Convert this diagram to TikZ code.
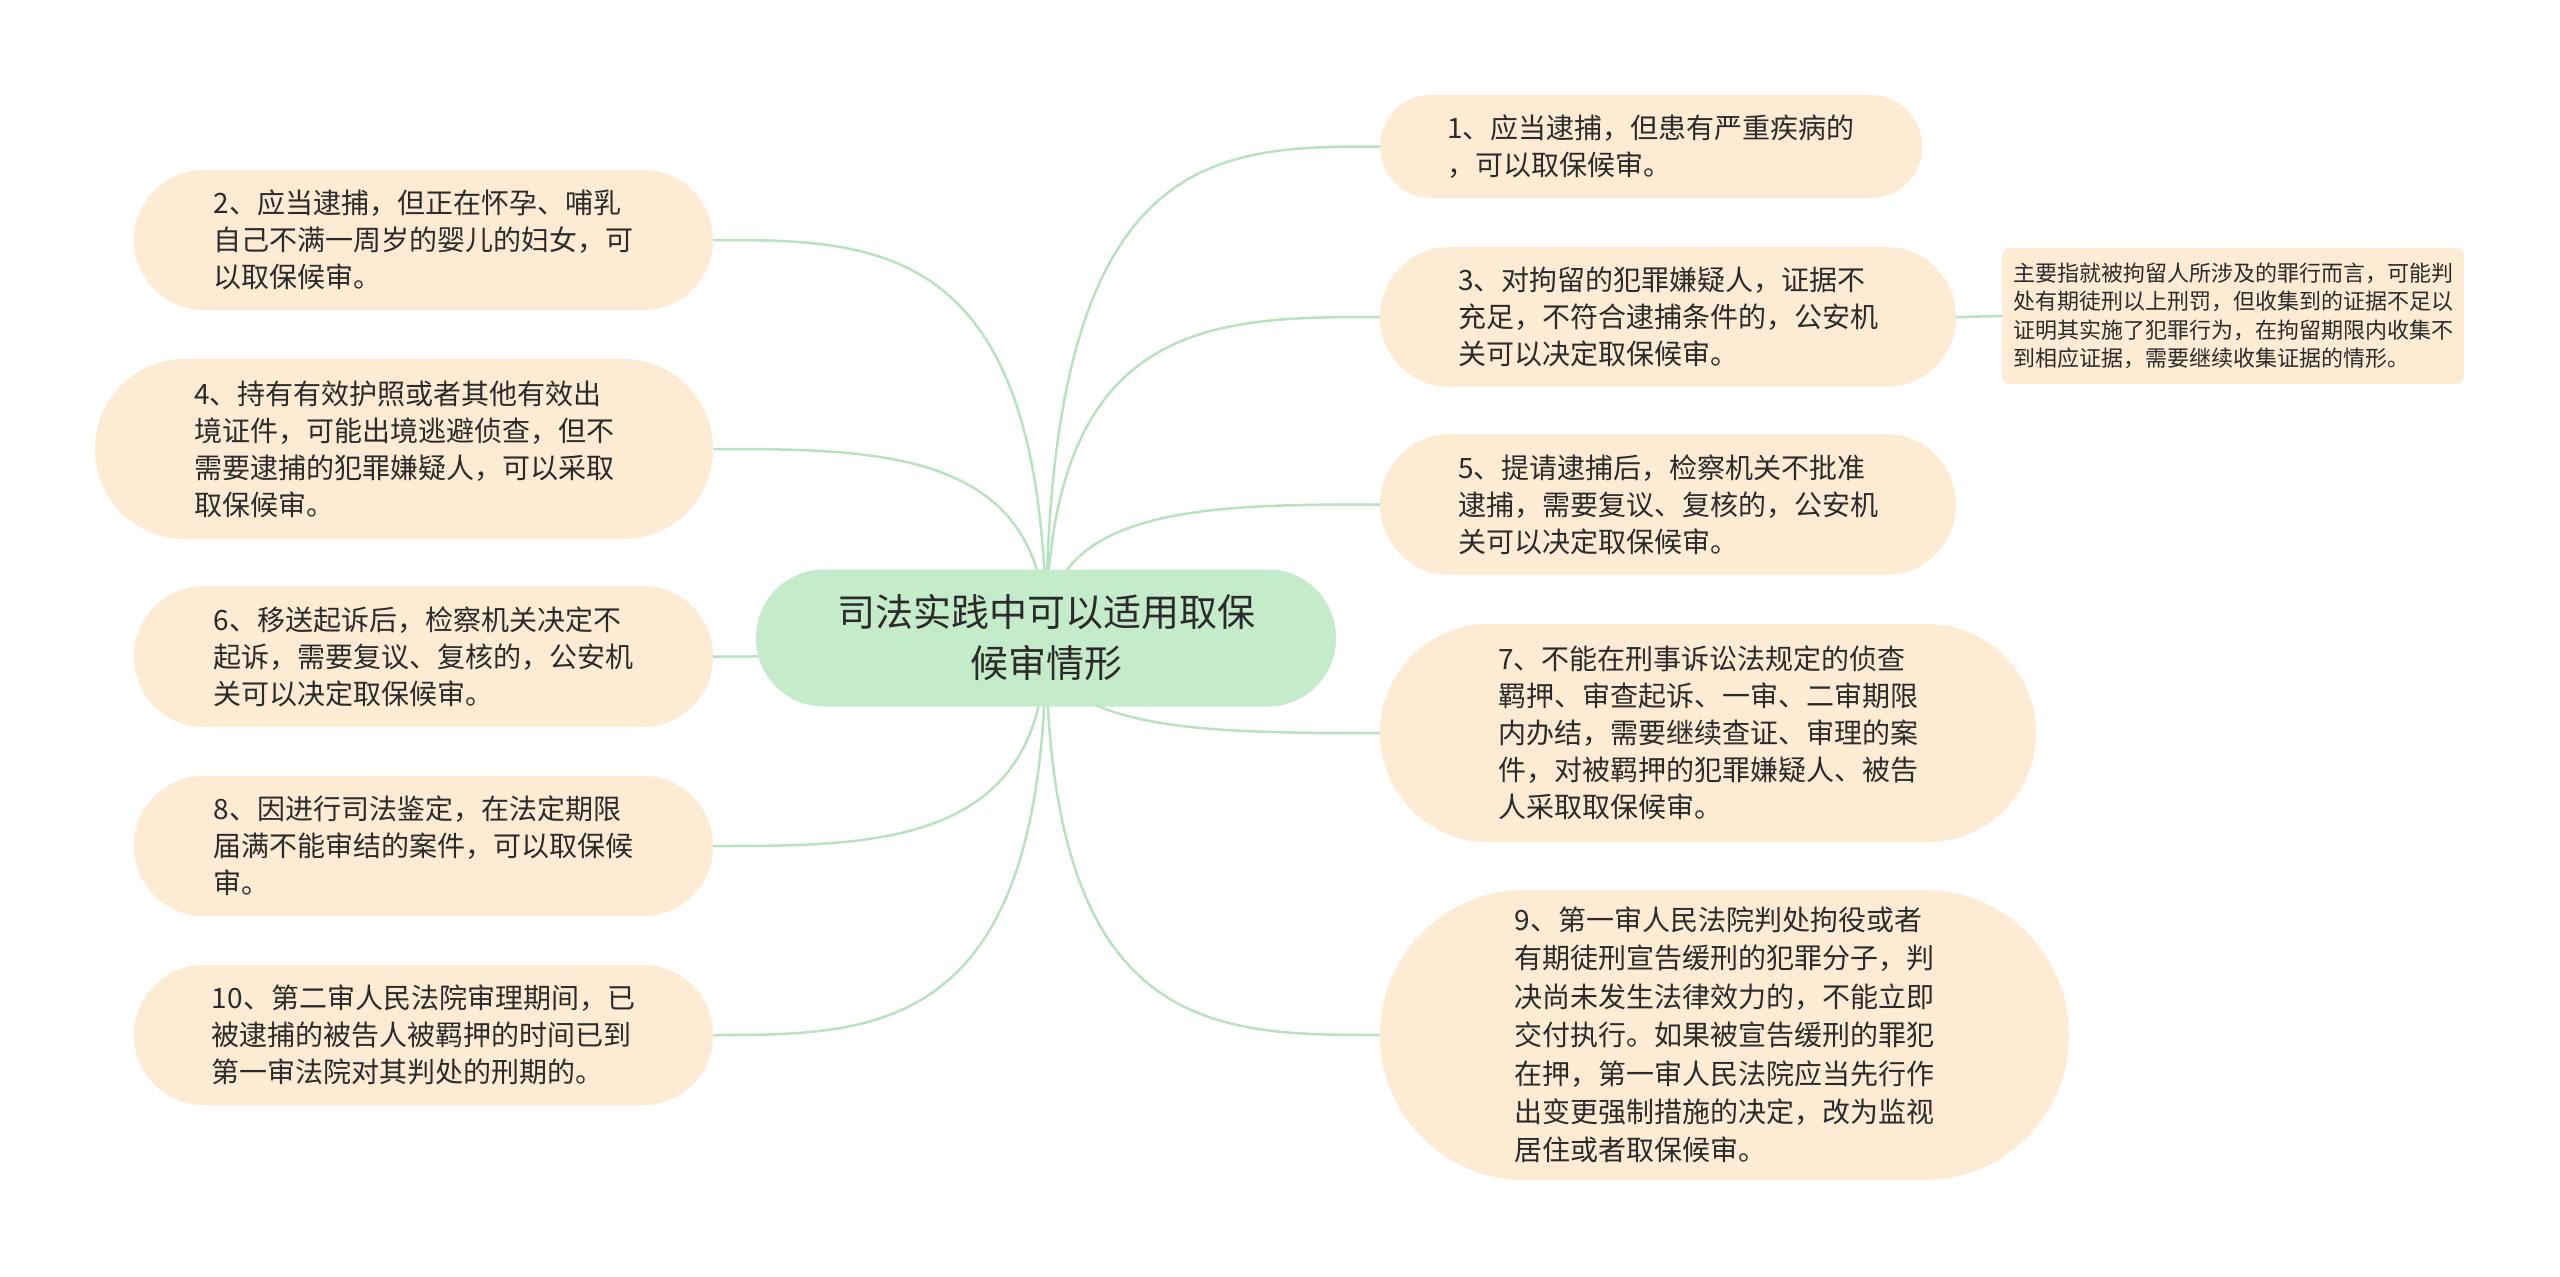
\documentclass[tikz,border=0pt]{standalone}
\usepackage{fontspec}
\setmainfont{Noto Sans CJK SC}
\usetikzlibrary{backgrounds,calc}
\definecolor{peach}{HTML}{FDEBD3}
\definecolor{rootfill}{HTML}{C4EBCA}
\definecolor{linkc}{HTML}{B8E3BF}
\definecolor{txt}{HTML}{2B2B2B}
\tikzset{
  leaf/.style={fill=peach, inner sep=0pt, align=left, text=txt,
    font=\fontsize{28}{37}\selectfont},
  rootbox/.style={fill=rootfill, inner sep=0pt, align=center, text=txt,
    font=\fontsize{38}{51}\selectfont},
  notebox/.style={fill=peach, inner sep=0pt, align=left, text=txt,
    font=\fontsize{22}{28.5}\selectfont, rounded corners=8pt},
  link/.style={draw=linkc, line width=2.5pt},
}
\newcommand{\lk}[2]{\draw[link] (#1.center) .. controls (#1.center |- #2) and ($(#1.center |- #2)!0.5!(#2)$) .. (#2);}
\begin{document}
\begin{tikzpicture}[x=1pt,y=-1pt]
\useasboundingbox (0,0) rectangle (2560,1277);
% root
\node[rootbox, minimum width=580pt, minimum height=137pt, rounded corners=68pt] (root) at (1046,638) {司法实践中可以适用取保\\候审情形};
% left
\node[leaf, minimum width=579pt, minimum height=140pt, rounded corners=69.5pt] (n2) at (423.5,240) {2、应当逮捕，但正在怀孕、哺乳\\自己不满一周岁的婴儿的妇女，可\\以取保候审。};
\node[leaf, minimum width=618pt, minimum height=180pt, rounded corners=89.5pt] (n4) at (404,449) {4、持有有效护照或者其他有效出\\境证件，可能出境逃避侦查，但不\\需要逮捕的犯罪嫌疑人，可以采取\\取保候审。};
\node[leaf, minimum width=579pt, minimum height=141pt, rounded corners=70pt] (n6) at (423.5,656.5) {6、移送起诉后，检察机关决定不\\起诉，需要复议、复核的，公安机\\关可以决定取保候审。};
\node[leaf, minimum width=579pt, minimum height=140pt, rounded corners=69.5pt] (n8) at (423.5,846) {8、因进行司法鉴定，在法定期限\\届满不能审结的案件，可以取保候\\审。};
\node[leaf, minimum width=579pt, minimum height=140pt, rounded corners=69.5pt] (n10) at (423.5,1035) {10、第二审人民法院审理期间，已\\被逮捕的被告人被羁押的时间已到\\第一审法院对其判处的刑期的。};
% right
\node[leaf, minimum width=542pt, minimum height=103pt, rounded corners=51pt] (n1) at (1651,146.5) {1、应当逮捕，但患有严重疾病的\\，可以取保候审。};
\node[leaf, minimum width=576pt, minimum height=140pt, rounded corners=69.5pt] (n3) at (1668,317) {3、对拘留的犯罪嫌疑人，证据不\\充足，不符合逮捕条件的，公安机\\关可以决定取保候审。};
\node[notebox, minimum width=462pt, minimum height=136pt] (note) at (2233,316) {主要指就被拘留人所涉及的罪行而言，可能判\\处有期徒刑以上刑罚，但收集到的证据不足以\\证明其实施了犯罪行为，在拘留期限内收集不\\到相应证据，需要继续收集证据的情形。};
\node[leaf, minimum width=576pt, minimum height=141pt, rounded corners=70pt] (n5) at (1668,504.5) {5、提请逮捕后，检察机关不批准\\逮捕，需要复议、复核的，公安机\\关可以决定取保候审。};
\node[leaf, minimum width=656pt, minimum height=218pt, rounded corners=108.5pt] (n7) at (1708,733) {7、不能在刑事诉讼法规定的侦查\\羁押、审查起诉、一审、二审期限\\内办结，需要继续查证、审理的案\\件，对被羁押的犯罪嫌疑人、被告\\人采取取保候审。};
\node[leaf, minimum width=689pt, minimum height=290pt, rounded corners=144.5pt, font=\fontsize{28}{38.4}\selectfont] (n9) at (1724.5,1035) {9、第一审人民法院判处拘役或者\\有期徒刑宣告缓刑的犯罪分子，判\\决尚未发生法律效力的，不能立即\\交付执行。如果被宣告缓刑的罪犯\\在押，第一审人民法院应当先行作\\出变更强制措施的决定，改为监视\\居住或者取保候审。};
% connectors
\begin{pgfonlayer}{background}
\fill[white] (0,0) rectangle (2560,1277);
\lk{root}{n2.east}
\lk{root}{n4.east}
\lk{root}{n6.east}
\lk{root}{n8.east}
\lk{root}{n10.east}
\lk{root}{n1.west}
\lk{root}{n3.west}
\lk{root}{n5.west}
\lk{root}{n7.west}
\lk{root}{n9.west}
\draw[link] (n3.east) -- (note.west);
\end{pgfonlayer}
\end{tikzpicture}
\end{document}
